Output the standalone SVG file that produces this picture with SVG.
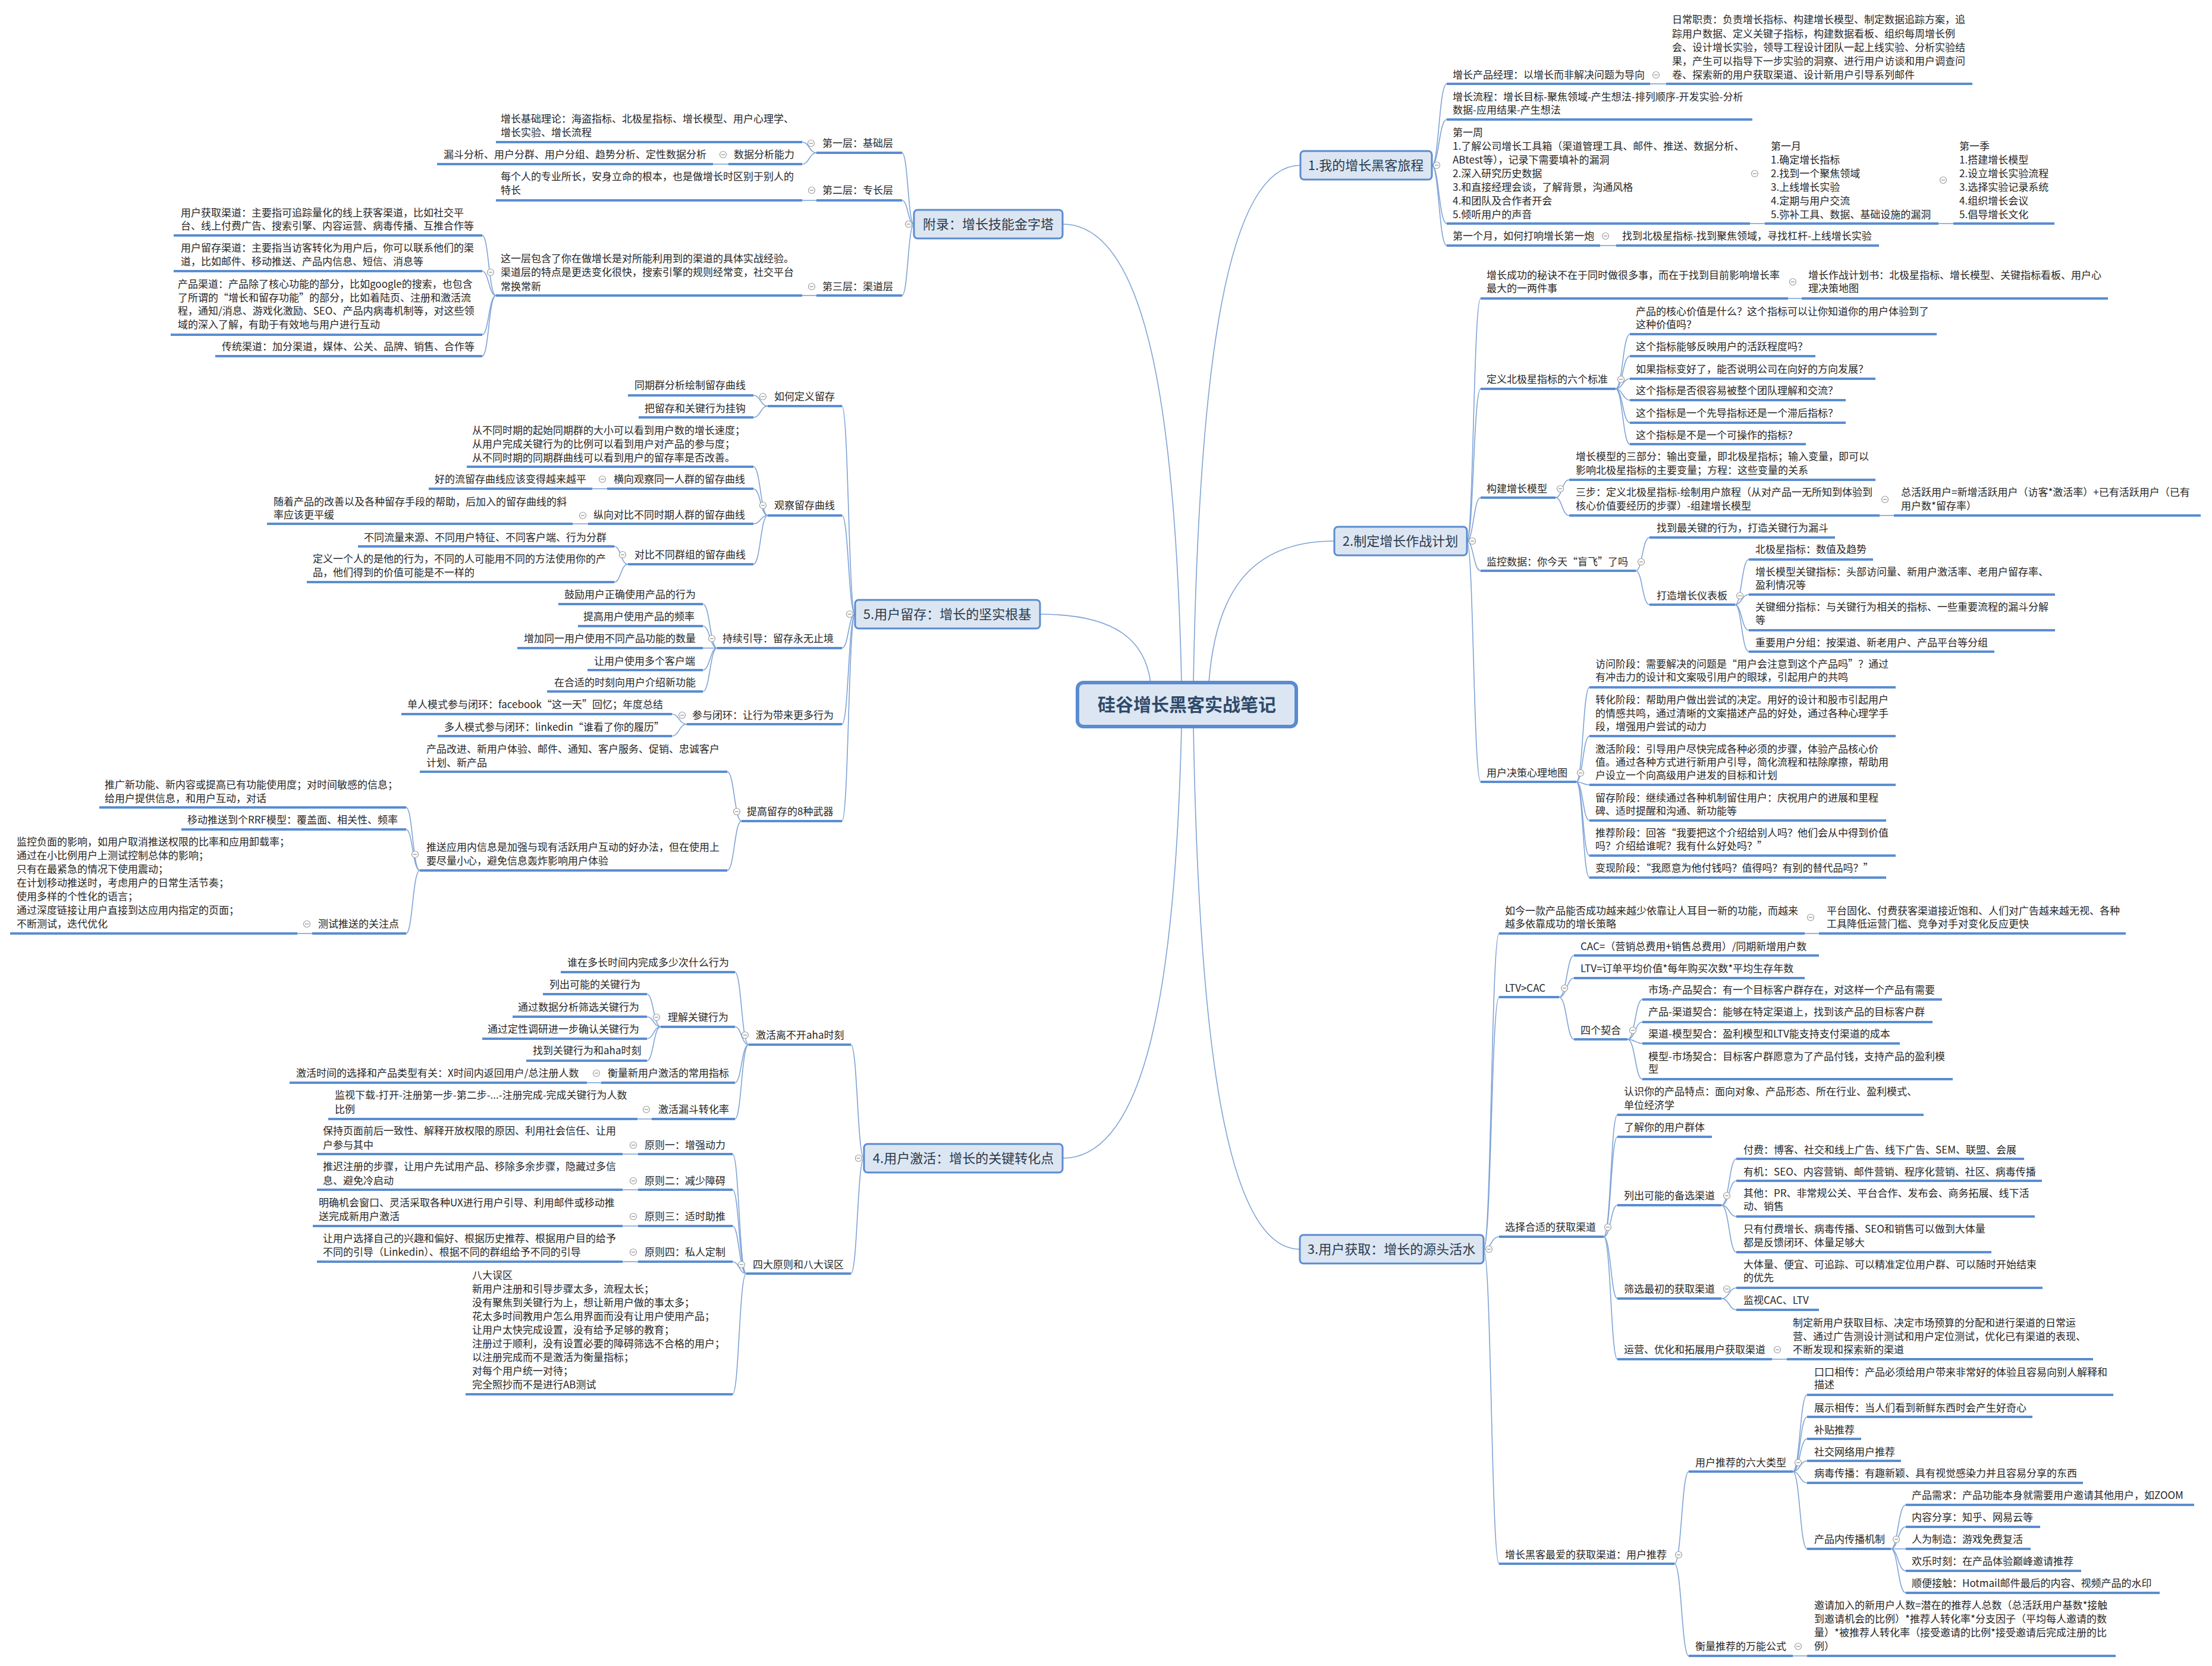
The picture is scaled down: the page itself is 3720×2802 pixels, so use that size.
<svg xmlns="http://www.w3.org/2000/svg" xmlns:xlink="http://www.w3.org/1999/xlink" width="3720" height="2802" viewBox="0 0 3720 2802">
<style>
.t{font-family:"Noto Sans CJK SC","Noto Sans",sans-serif;font-size:17px;fill:#262626}
.u{stroke:#5a8dd2;stroke-width:4;fill:none}
.c{stroke:#7fa3d6;stroke-width:1.6;fill:none}
.box{fill:#dce6f2;stroke:#5b8bd0;stroke-width:3}
.tt{font-family:"Noto Sans CJK SC","Noto Sans",sans-serif;font-size:22px;fill:#2b3a4e;text-anchor:middle}
.root{fill:#dce6f2;stroke:#5b8bd0;stroke-width:6}
.rt{font-family:"Noto Sans CJK SC","Noto Sans",sans-serif;font-size:30px;font-weight:bold;fill:#2e4a6b;text-anchor:middle}
</style>
<defs>
<g id="mk"><circle r="5.5" fill="#fff" stroke="#9a9a9a" stroke-width="1.2"/><path d="M-3,0H3" stroke="#8a8a8a" stroke-width="1.2"/></g>
</defs>
<rect width="3720" height="2802" fill="#fff"/>

<g id="connectors">
<path class="c" d="M2007,1148C2016,626 2061,278 2187,278"/>
<path class="c" d="M2033,1148C2044,1005 2096,910 2244,910"/>
<path class="c" d="M2007,1222C2016,1749 2061,2101 2186,2101"/>
<path class="c" d="M1987,1222C1977,1658 1927,1948 1787,1948"/>
<path class="c" d="M1935,1148C1926,1079 1879,1033 1749,1033"/>
<path class="c" d="M1987,1148C1977,685 1927,377 1787,377"/>
<!-- section 1 -->
<path class="c" d="M2408,278C2420,278 2420,141 2433,141"/>
<path class="c" d="M2408,278C2420,278 2420,201 2433,201"/>
<path class="c" d="M2408,278C2420,278 2420,376 2433,376"/>
<path class="c" d="M2408,278C2420,278 2420,413 2433,413"/>
<path class="c" d="M2775,141H2802"/>
<path class="c" d="M2943,376H2968"/>
<path class="c" d="M3260,376H3285"/>
<path class="c" d="M2691,413H2718"/>
<!-- section 2 -->
<path class="c" d="M2467,910C2478,910 2478,502 2490,502"/>
<path class="c" d="M2467,910C2478,910 2478,654 2490,654"/>
<path class="c" d="M2467,910C2478,910 2478,837 2490,837"/>
<path class="c" d="M2467,910C2478,910 2478,960 2490,960"/>
<path class="c" d="M2467,910C2478,910 2478,1315 2490,1315"/>
<path class="c" d="M3007,502H3030"/>
<path class="c" d="M2717,654C2729,654 2729,562 2741,562"/>
<path class="c" d="M2717,654C2729,654 2729,599 2741,599"/>
<path class="c" d="M2717,654C2729,654 2729,637 2741,637"/>
<path class="c" d="M2717,654C2729,654 2729,673 2741,673"/>
<path class="c" d="M2717,654C2729,654 2729,711 2741,711"/>
<path class="c" d="M2717,654C2729,654 2729,747 2741,747"/>
<path class="c" d="M2616,837C2627,837 2627,807 2639,807"/>
<path class="c" d="M2616,837C2627,837 2627,867 2639,867"/>
<path class="c" d="M3161,867H3185"/>
<path class="c" d="M2751,960C2762,960 2762,904 2774,904"/>
<path class="c" d="M2751,960C2762,960 2762,1017 2774,1017"/>
<path class="c" d="M2918,1017C2929,1017 2929,941 2941,941"/>
<path class="c" d="M2918,1017C2929,1017 2929,1000 2941,1000"/>
<path class="c" d="M2918,1017C2929,1017 2929,1060 2941,1060"/>
<path class="c" d="M2918,1017C2929,1017 2929,1096 2941,1096"/>
<path class="c" d="M2651,1315C2662,1315 2662,1156 2673,1156"/>
<path class="c" d="M2651,1315C2662,1315 2662,1238 2673,1238"/>
<path class="c" d="M2651,1315C2662,1315 2662,1320 2673,1320"/>
<path class="c" d="M2651,1315C2662,1315 2662,1380 2673,1380"/>
<path class="c" d="M2651,1315C2662,1315 2662,1439 2673,1439"/>
<path class="c" d="M2651,1315C2662,1315 2662,1476 2673,1476"/>
<!-- section 3 -->
<path class="c" d="M2495,2101C2508,2101 2508,1570 2521,1570"/>
<path class="c" d="M2495,2101C2508,2101 2508,1677 2521,1677"/>
<path class="c" d="M2495,2101C2508,2101 2508,2080 2521,2080"/>
<path class="c" d="M2495,2101C2508,2101 2508,2630 2521,2630"/>
<path class="c" d="M3035,1570H3059"/>
<path class="c" d="M2622,1677C2635,1677 2635,1607 2647,1607"/>
<path class="c" d="M2622,1677C2635,1677 2635,1645 2647,1645"/>
<path class="c" d="M2622,1677C2635,1677 2635,1748 2647,1748"/>
<path class="c" d="M2737,1748C2750,1748 2750,1681 2762,1681"/>
<path class="c" d="M2737,1748C2750,1748 2750,1719 2762,1719"/>
<path class="c" d="M2737,1748C2750,1748 2750,1755 2762,1755"/>
<path class="c" d="M2737,1748C2750,1748 2750,1815 2762,1815"/>
<path class="c" d="M2697,2080C2709,2080 2709,1875 2720,1875"/>
<path class="c" d="M2697,2080C2709,2080 2709,1912 2720,1912"/>
<path class="c" d="M2697,2080C2709,2080 2709,2027 2720,2027"/>
<path class="c" d="M2697,2080C2709,2080 2709,2184 2720,2184"/>
<path class="c" d="M2697,2080C2709,2080 2709,2286 2720,2286"/>
<path class="c" d="M2895,2027C2908,2027 2908,1949 2920,1949"/>
<path class="c" d="M2895,2027C2908,2027 2908,1986 2920,1986"/>
<path class="c" d="M2895,2027C2908,2027 2908,2046 2920,2046"/>
<path class="c" d="M2895,2027C2908,2027 2908,2106 2920,2106"/>
<path class="c" d="M2895,2184C2908,2184 2908,2166 2920,2166"/>
<path class="c" d="M2895,2184C2908,2184 2908,2203 2920,2203"/>
<path class="c" d="M2980,2286H3005"/>
<path class="c" d="M2816,2630C2828,2630 2828,2475 2840,2475"/>
<path class="c" d="M2816,2630C2828,2630 2828,2785 2840,2785"/>
<path class="c" d="M3015,2475C3027,2475 3027,2346 3039,2346"/>
<path class="c" d="M3015,2475C3027,2475 3027,2383 3039,2383"/>
<path class="c" d="M3015,2475C3027,2475 3027,2420 3039,2420"/>
<path class="c" d="M3015,2475C3027,2475 3027,2457 3039,2457"/>
<path class="c" d="M3015,2475C3027,2475 3027,2494 3039,2494"/>
<path class="c" d="M3015,2475C3027,2475 3027,2605 3039,2605"/>
<path class="c" d="M3180,2605C3192,2605 3192,2531 3205,2531"/>
<path class="c" d="M3180,2605C3192,2605 3192,2568 3205,2568"/>
<path class="c" d="M3180,2605C3192,2605 3192,2605 3205,2605"/>
<path class="c" d="M3180,2605C3192,2605 3192,2642 3205,2642"/>
<path class="c" d="M3180,2605C3192,2605 3192,2679 3205,2679"/>
<path class="c" d="M3015,2785H3039"/>
<!-- appendix -->
<path class="c" d="M1537,377C1527,377 1527,257 1517,257"/>
<path class="c" d="M1537,377C1527,377 1527,337 1517,337"/>
<path class="c" d="M1537,377C1527,377 1527,497 1517,497"/>
<path class="c" d="M1373,257C1361,257 1361,239 1349,239"/>
<path class="c" d="M1373,257C1361,257 1361,276 1349,276"/>
<path class="c" d="M1225,276H1199"/>
<path class="c" d="M1373,337H1349"/>
<path class="c" d="M1373,497H1349"/>
<path class="c" d="M834,497C822,497 822,396 811,396"/>
<path class="c" d="M834,497C822,497 822,456 811,456"/>
<path class="c" d="M834,497C822,497 822,563 811,563"/>
<path class="c" d="M834,497C822,497 822,599 811,599"/>
<!-- section 5 -->
<path class="c" d="M1438,1033C1427,1033 1427,683 1416,683"/>
<path class="c" d="M1438,1033C1427,1033 1427,867 1416,867"/>
<path class="c" d="M1438,1033C1427,1033 1427,1090 1416,1090"/>
<path class="c" d="M1438,1033C1427,1033 1427,1218 1416,1218"/>
<path class="c" d="M1438,1033C1427,1033 1427,1381 1416,1381"/>
<path class="c" d="M1291,683C1279,683 1279,665 1267,665"/>
<path class="c" d="M1291,683C1279,683 1279,702 1267,702"/>
<path class="c" d="M1291,867C1279,867 1279,785 1267,785"/>
<path class="c" d="M1291,867C1279,867 1279,822 1267,822"/>
<path class="c" d="M1291,867C1279,867 1279,881 1267,881"/>
<path class="c" d="M1291,867C1279,867 1279,949 1267,949"/>
<path class="c" d="M1021,822H996"/>
<path class="c" d="M989,881H963"/>
<path class="c" d="M1056,949C1044,949 1044,919 1033,919"/>
<path class="c" d="M1056,949C1044,949 1044,979 1033,979"/>
<path class="c" d="M1206,1090C1194,1090 1194,1016 1182,1016"/>
<path class="c" d="M1206,1090C1194,1090 1194,1053 1182,1053"/>
<path class="c" d="M1206,1090H1182"/>
<path class="c" d="M1206,1090C1194,1090 1194,1127 1182,1127"/>
<path class="c" d="M1206,1090C1194,1090 1194,1163 1182,1163"/>
<path class="c" d="M1155,1218C1142,1218 1142,1201 1130,1201"/>
<path class="c" d="M1155,1218C1142,1218 1142,1238 1130,1238"/>
<path class="c" d="M1247,1381C1235,1381 1235,1298 1223,1298"/>
<path class="c" d="M1247,1381C1235,1381 1235,1464 1223,1464"/>
<path class="c" d="M706,1464C694,1464 694,1358 683,1358"/>
<path class="c" d="M706,1464C694,1464 694,1395 683,1395"/>
<path class="c" d="M706,1464C694,1464 694,1570 683,1570"/>
<path class="c" d="M525,1570H500"/>
<!-- section 4 -->
<path class="c" d="M1453,1948C1442,1948 1442,1757 1431,1757"/>
<path class="c" d="M1453,1948C1442,1948 1442,2142 1431,2142"/>
<path class="c" d="M1259,1757C1247,1757 1247,1635 1236,1635"/>
<path class="c" d="M1259,1757C1247,1757 1247,1727 1236,1727"/>
<path class="c" d="M1259,1757C1247,1757 1247,1821 1236,1821"/>
<path class="c" d="M1259,1757C1247,1757 1247,1882 1236,1882"/>
<path class="c" d="M1111,1727C1099,1727 1099,1672 1088,1672"/>
<path class="c" d="M1111,1727C1099,1727 1099,1710 1088,1710"/>
<path class="c" d="M1111,1727C1099,1727 1099,1747 1088,1747"/>
<path class="c" d="M1111,1727C1099,1727 1099,1784 1088,1784"/>
<path class="c" d="M1011,1821H987"/>
<path class="c" d="M1096,1882H1072"/>
<path class="c" d="M1255,2142C1243,2142 1243,1941 1232,1941"/>
<path class="c" d="M1255,2142C1243,2142 1243,2001 1232,2001"/>
<path class="c" d="M1255,2142C1243,2142 1243,2062 1232,2062"/>
<path class="c" d="M1255,2142C1243,2142 1243,2122 1232,2122"/>
<path class="c" d="M1255,2142C1243,2142 1243,2345 1232,2345"/>
<path class="c" d="M1073,1941H1047"/>
<path class="c" d="M1073,2001H1047"/>
<path class="c" d="M1073,2062H1047"/>
<path class="c" d="M1073,2122H1047"/>
</g>

<g id="root"><rect class="root" x="1812" y="1148" width="368" height="74" rx="10"/><text class="rt" x="1996" y="1196">硅谷增长黑客实战笔记</text></g>
<g id="t1"><rect class="box" x="2187" y="254" width="221" height="48" rx="6"/><text class="tt" x="2297" y="286">1.我的增长黑客旅程</text></g>
<g id="t2"><rect class="box" x="2244" y="886" width="223" height="48" rx="6"/><text class="tt" x="2355" y="918">2.制定增长作战计划</text></g>
<g id="t3"><rect class="box" x="2186" y="2077" width="309" height="48" rx="6"/><text class="tt" x="2340" y="2109">3.用户获取：增长的源头活水</text></g>
<g id="t4"><rect class="box" x="1453" y="1924" width="334" height="48" rx="6"/><text class="tt" x="1620" y="1956">4.用户激活：增长的关键转化点</text></g>
<g id="t5"><rect class="box" x="1438" y="1009" width="311" height="48" rx="6"/><text class="tt" x="1593" y="1041">5.用户留存：增长的坚实根基</text></g>
<g id="tapp"><rect class="box" x="1537" y="353" width="250" height="48" rx="6"/><text class="tt" x="1662" y="385">附录：增长技能金字塔</text></g>

<!-- section 1 -->
<g id="n1a"><text class="t" x="2443" y="132">增长产品经理：以增长而非解决问题为导向</text><path class="u" d="M2433,141H2775"/></g>
<g id="n1a1"><text class="t"><tspan x="2812" y="39">日常职责：负责增长指标、构建增长模型、制定数据追踪方案，追</tspan><tspan x="2812" y="63">踪用户数据、定义关键子指标，构建数据看板、组织每周增长例</tspan><tspan x="2812" y="86">会、设计增长实验，领导工程设计团队一起上线实验、分析实验结</tspan><tspan x="2812" y="109">果，产生可以指导下一步实验的洞察、进行用户访谈和用户调查问</tspan><tspan x="2812" y="132">卷、探索新的用户获取渠道、设计新用户引导系列邮件</tspan></text><path class="u" d="M2802,141H3317"/></g>
<g id="n1b"><text class="t"><tspan x="2443" y="169">增长流程：增长目标-聚焦领域-产生想法-排列顺序-开发实验-分析</tspan><tspan x="2443" y="191">数据-应用结果-产生想法</tspan></text><path class="u" d="M2433,201H2947"/></g>
<g id="n1c"><text class="t"><tspan x="2443" y="229">第一周</tspan><tspan x="2443" y="252">1.了解公司增长工具箱（渠道管理工具、邮件、推送、数据分析、</tspan><tspan x="2443" y="275">ABtest等），记录下需要填补的漏洞</tspan><tspan x="2443" y="298">2.深入研究历史数据</tspan><tspan x="2443" y="321">3.和直接经理会谈，了解背景，沟通风格</tspan><tspan x="2443" y="344">4.和团队及合作者开会</tspan><tspan x="2443" y="367">5.倾听用户的声音</tspan></text><path class="u" d="M2433,376H2943"/></g>
<g id="n1c1"><text class="t"><tspan x="2978" y="252">第一月</tspan><tspan x="2978" y="275">1.确定增长指标</tspan><tspan x="2978" y="298">2.找到一个聚焦领域</tspan><tspan x="2978" y="321">3.上线增长实验</tspan><tspan x="2978" y="344">4.定期与用户交流</tspan><tspan x="2978" y="367">5.弥补工具、数据、基础设施的漏洞</tspan></text><path class="u" d="M2968,376H3260"/></g>
<g id="n1c1a"><text class="t"><tspan x="3295" y="252">第一季</tspan><tspan x="3295" y="275">1.搭建增长模型</tspan><tspan x="3295" y="298">2.设立增长实验流程</tspan><tspan x="3295" y="321">3.选择实验记录系统</tspan><tspan x="3295" y="344">4.组织增长会议</tspan><tspan x="3295" y="367">5.倡导增长文化</tspan></text><path class="u" d="M3285,376H3455"/></g>
<g id="n1d"><text class="t" x="2443" y="403">第一个月，如何打响增长第一炮</text><path class="u" d="M2433,413H2691"/></g>
<g id="n1d1"><text class="t" x="2728" y="403">找到北极星指标-找到聚焦领域，寻找杠杆-上线增长实验</text><path class="u" d="M2718,413H3160"/></g>

<!-- section 2 -->
<g id="n2a"><text class="t"><tspan x="2500" y="469">增长成功的秘诀不在于同时做很多事，而在于找到目前影响增长率</tspan><tspan x="2500" y="491">最大的一两件事</tspan></text><path class="u" d="M2490,502H3007"/></g>
<g id="n2a1"><text class="t"><tspan x="3041" y="469">增长作战计划书：北极星指标、增长模型、关键指标看板、用户心</tspan><tspan x="3041" y="491">理决策地图</tspan></text><path class="u" d="M3030,502H3545"/></g>
<g id="n2b"><text class="t" x="2500" y="644">定义北极星指标的六个标准</text><path class="u" d="M2490,654H2717"/></g>
<g id="n2b1"><text class="t"><tspan x="2751" y="530">产品的核心价值是什么？这个指标可以让你知道你的用户体验到了</tspan><tspan x="2751" y="552">这种价值吗？</tspan></text><path class="u" d="M2741,562H3257"/></g>
<g id="n2b2"><text class="t" x="2751" y="589">这个指标能够反映用户的活跃程度吗？</text><path class="u" d="M2741,599H3053"/></g>
<g id="n2b3"><text class="t" x="2751" y="627">如果指标变好了，能否说明公司在向好的方向发展？</text><path class="u" d="M2741,637H3154"/></g>
<g id="n2b4"><text class="t" x="2751" y="663">这个指标是否很容易被整个团队理解和交流？</text><path class="u" d="M2741,673H3104"/></g>
<g id="n2b5"><text class="t" x="2751" y="701">这个指标是一个先导指标还是一个滞后指标？</text><path class="u" d="M2741,711H3104"/></g>
<g id="n2b6"><text class="t" x="2751" y="738">这个指标是不是一个可操作的指标？</text><path class="u" d="M2741,747H3037"/></g>
<g id="n2c"><text class="t" x="2500" y="828">构建增长模型</text><path class="u" d="M2490,837H2616"/></g>
<g id="n2c1"><text class="t"><tspan x="2650" y="774">增长模型的三部分：输出变量，即北极星指标；输入变量，即可以</tspan><tspan x="2650" y="797">影响北极星指标的主要变量；方程：这些变量的关系</tspan></text><path class="u" d="M2639,807H3154"/></g>
<g id="n2c2"><text class="t"><tspan x="2650" y="834">三步：定义北极星指标-绘制用户旅程（从对产品一无所知到体验到</tspan><tspan x="2650" y="857">核心价值要经历的步骤）-组建增长模型</tspan></text><path class="u" d="M2639,867H3161"/></g>
<g id="n2c2a"><text class="t"><tspan x="3197" y="834">总活跃用户=新增活跃用户（访客*激活率）+已有活跃用户（已有</tspan><tspan x="3197" y="857">用户数*留存率）</tspan></text><path class="u" d="M3185,867H3701"/></g>
<g id="n2d"><text class="t" x="2500" y="951">监控数据：你今天“盲飞”了吗</text><path class="u" d="M2490,960H2751"/></g>
<g id="n2d1"><text class="t" x="2786" y="894">找到最关键的行为，打造关键行为漏斗</text><path class="u" d="M2774,904H3086"/></g>
<g id="n2d2"><text class="t" x="2786" y="1008">打造增长仪表板</text><path class="u" d="M2774,1017H2918"/></g>
<g id="n2d2a"><text class="t" x="2952" y="930">北极星指标：数值及趋势</text><path class="u" d="M2941,941H3150"/></g>
<g id="n2d2b"><text class="t"><tspan x="2952" y="968">增长模型关键指标：头部访问量、新用户激活率、老用户留存率、</tspan><tspan x="2952" y="990">盈利情况等</tspan></text><path class="u" d="M2941,1000H3456"/></g>
<g id="n2d2c"><text class="t"><tspan x="2952" y="1027">关键细分指标：与关键行为相关的指标、一些重要流程的漏斗分解</tspan><tspan x="2952" y="1049">等</tspan></text><path class="u" d="M2941,1060H3456"/></g>
<g id="n2d2d"><text class="t" x="2952" y="1087">重要用户分组：按渠道、新老用户、产品平台等分组</text><path class="u" d="M2941,1096H3354"/></g>
<g id="n2e"><text class="t" x="2500" y="1306">用户决策心理地图</text><path class="u" d="M2490,1315H2651"/></g>
<g id="n2e1"><text class="t"><tspan x="2683" y="1123">访问阶段：需要解决的问题是“用户会注意到这个产品吗”？通过</tspan><tspan x="2683" y="1145">有冲击力的设计和文案吸引用户的眼球，引起用户的共鸣</tspan></text><path class="u" d="M2673,1156H3188"/></g>
<g id="n2e2"><text class="t"><tspan x="2683" y="1183">转化阶段：帮助用户做出尝试的决定。用好的设计和股市引起用户</tspan><tspan x="2683" y="1206">的情感共鸣，通过清晰的文案描述产品的好处，通过各种心理学手</tspan><tspan x="2683" y="1228">段，增强用户尝试的动力</tspan></text><path class="u" d="M2673,1238H3188"/></g>
<g id="n2e3"><text class="t"><tspan x="2683" y="1266">激活阶段：引导用户尽快完成各种必须的步骤，体验产品核心价</tspan><tspan x="2683" y="1288">值。通过各种方式进行新用户引导，简化流程和祛除摩擦，帮助用</tspan><tspan x="2683" y="1310">户设立一个向高级用户进发的目标和计划</tspan></text><path class="u" d="M2673,1320H3188"/></g>
<g id="n2e4"><text class="t"><tspan x="2683" y="1348">留存阶段：继续通过各种机制留住用户：庆祝用户的进展和里程</tspan><tspan x="2683" y="1370">碑、适时提醒和沟通、新功能等</tspan></text><path class="u" d="M2673,1380H3172"/></g>
<g id="n2e5"><text class="t"><tspan x="2683" y="1407">推荐阶段：回答“我要把这个介绍给别人吗？他们会从中得到价值</tspan><tspan x="2683" y="1429">吗？介绍给谁呢？我有什么好处吗？”</tspan></text><path class="u" d="M2673,1439H3188"/></g>
<g id="n2e6"><text class="t" x="2683" y="1466">变现阶段：“我愿意为他付钱吗？值得吗？有别的替代品吗？”</text><path class="u" d="M2673,1476H3172"/></g>

<!-- section 3 -->
<g id="n3a"><text class="t"><tspan x="2531" y="1538">如今一款产品能否成功越来越少依靠让人耳目一新的功能，而越来</tspan><tspan x="2531" y="1560">越多依靠成功的增长策略</tspan></text><path class="u" d="M2521,1570H3035"/></g>
<g id="n3a1"><text class="t"><tspan x="3072" y="1538">平台固化、付费获客渠道接近饱和、人们对广告越来越无视、各种</tspan><tspan x="3072" y="1560">工具降低运营门槛、竞争对手对变化反应更快</tspan></text><path class="u" d="M3059,1570H3575"/></g>
<g id="n3b"><text class="t" x="2531" y="1668">LTV&gt;CAC</text><path class="u" d="M2521,1677H2622"/></g>
<g id="n3b1"><text class="t" x="2658" y="1598">CAC=（营销总费用+销售总费用）/同期新增用户数</text><path class="u" d="M2647,1607H3059"/></g>
<g id="n3b2"><text class="t" x="2658" y="1635">LTV=订单平均价值*每年购买次数*平均生存年数</text><path class="u" d="M2647,1645H3035"/></g>
<g id="n3b3"><text class="t" x="2658" y="1739">四个契合</text><path class="u" d="M2647,1748H2737"/></g>
<g id="n3b3a"><text class="t" x="2772" y="1671">市场-产品契合：有一个目标客户群存在，对这样一个产品有需要</text><path class="u" d="M2762,1681H3266"/></g>
<g id="n3b3b"><text class="t" x="2772" y="1708">产品-渠道契合：能够在特定渠道上，找到该产品的目标客户群</text><path class="u" d="M2762,1719H3250"/></g>
<g id="n3b3c"><text class="t" x="2772" y="1745">渠道-模型契合：盈利模型和LTV能支持支付渠道的成本</text><path class="u" d="M2762,1755H3195"/></g>
<g id="n3b3d"><text class="t"><tspan x="2772" y="1783">模型-市场契合：目标客户群愿意为了产品付钱，支持产品的盈利模</tspan><tspan x="2772" y="1804">型</tspan></text><path class="u" d="M2762,1815H3284"/></g>
<g id="n3c"><text class="t" x="2531" y="2070">选择合适的获取渠道</text><path class="u" d="M2521,2080H2697"/></g>
<g id="n3c1"><text class="t"><tspan x="2731" y="1842">认识你的产品特点：面向对象、产品形态、所在行业、盈利模式、</tspan><tspan x="2731" y="1865">单位经济学</tspan></text><path class="u" d="M2720,1875H3235"/></g>
<g id="n3c2"><text class="t" x="2731" y="1902">了解你的用户群体</text><path class="u" d="M2720,1912H2879"/></g>
<g id="n3c3"><text class="t" x="2731" y="2017">列出可能的备选渠道</text><path class="u" d="M2720,2027H2895"/></g>
<g id="n3c3a"><text class="t" x="2932" y="1940">付费：博客、社交和线上广告、线下广告、SEM、联盟、会展</text><path class="u" d="M2920,1949H3404"/></g>
<g id="n3c3b"><text class="t" x="2932" y="1977">有机：SEO、内容营销、邮件营销、程序化营销、社区、病毒传播</text><path class="u" d="M2920,1986H3434"/></g>
<g id="n3c3c"><text class="t"><tspan x="2932" y="2013">其他：PR、非常规公关、平台合作、发布会、商务拓展、线下活</tspan><tspan x="2932" y="2035">动、销售</tspan></text><path class="u" d="M2920,2046H3422"/></g>
<g id="n3c3d"><text class="t"><tspan x="2932" y="2073">只有付费增长、病毒传播、SEO和销售可以做到大体量</tspan><tspan x="2932" y="2096">都是反馈闭环、体量足够大</tspan></text><path class="u" d="M2920,2106H3349"/></g>
<g id="n3c4"><text class="t" x="2731" y="2174">筛选最初的获取渠道</text><path class="u" d="M2720,2184H2895"/></g>
<g id="n3c4a"><text class="t"><tspan x="2932" y="2133">大体量、便宜、可追踪、可以精准定位用户群、可以随时开始结束</tspan><tspan x="2932" y="2155">的优先</tspan></text><path class="u" d="M2920,2166H3435"/></g>
<g id="n3c4b"><text class="t" x="2932" y="2193">监视CAC、LTV</text><path class="u" d="M2920,2203H3059"/></g>
<g id="n3c5"><text class="t" x="2731" y="2276">运营、优化和拓展用户获取渠道</text><path class="u" d="M2720,2286H2980"/></g>
<g id="n3c5a"><text class="t"><tspan x="3015" y="2231">制定新用户获取目标、决定市场预算的分配和进行渠道的日常运</tspan><tspan x="3015" y="2254">营、通过广告测设计测试和用户定位测试，优化已有渠道的表现、</tspan><tspan x="3015" y="2276">不断发现和探索新的渠道</tspan></text><path class="u" d="M3005,2286H3520"/></g>
<g id="n3d"><text class="t" x="2531" y="2621">增长黑客最爱的获取渠道：用户推荐</text><path class="u" d="M2521,2630H2816"/></g>
<g id="n3d1"><text class="t" x="2851" y="2466">用户推荐的六大类型</text><path class="u" d="M2840,2475H3015"/></g>
<g id="n3d1a"><text class="t"><tspan x="3051" y="2314">口口相传：产品必须给用户带来非常好的体验且容易向别人解释和</tspan><tspan x="3051" y="2335">描述</tspan></text><path class="u" d="M3039,2346H3554"/></g>
<g id="n3d1b"><text class="t" x="3051" y="2374">展示相传：当人们看到新鲜东西时会产生好奇心</text><path class="u" d="M3039,2383H3418"/></g>
<g id="n3d1c"><text class="t" x="3051" y="2411">补贴推荐</text><path class="u" d="M3039,2420H3130"/></g>
<g id="n3d1d"><text class="t" x="3051" y="2448">社交网络用户推荐</text><path class="u" d="M3039,2457H3197"/></g>
<g id="n3d1e"><text class="t" x="3051" y="2484">病毒传播：有趣新颖、具有视觉感染力并且容易分享的东西</text><path class="u" d="M3039,2494H3503"/></g>
<g id="n3d1f"><text class="t" x="3051" y="2595">产品内传播机制</text><path class="u" d="M3039,2605H3180"/></g>
<g id="n3d1f1"><text class="t" x="3215" y="2521">产品需求：产品功能本身就需要用户邀请其他用户，如ZOOM</text><path class="u" d="M3205,2531H3690"/></g>
<g id="n3d1f2"><text class="t" x="3215" y="2558">内容分享：知乎、网易云等</text><path class="u" d="M3205,2568H3431"/></g>
<g id="n3d1f3"><text class="t" x="3215" y="2595">人为制造：游戏免费复活</text><path class="u" d="M3205,2605H3415"/></g>
<g id="n3d1f4"><text class="t" x="3215" y="2632">欢乐时刻：在产品体验巅峰邀请推荐</text><path class="u" d="M3205,2642H3500"/></g>
<g id="n3d1f5"><text class="t" x="3215" y="2669">顺便接触：Hotmail邮件最后的内容、视频产品的水印</text><path class="u" d="M3205,2679H3632"/></g>
<g id="n3d2"><text class="t" x="2851" y="2775">衡量推荐的万能公式</text><path class="u" d="M2840,2785H3015"/></g>
<g id="n3d2a"><text class="t"><tspan x="3051" y="2706">邀请加入的新用户人数=潜在的推荐人总数（总活跃用户基数*接触</tspan><tspan x="3051" y="2729">到邀请机会的比例）*推荐人转化率*分支因子（平均每人邀请的数</tspan><tspan x="3051" y="2752">量）*被推荐人转化率（接受邀请的比例*接受邀请后完成注册的比</tspan><tspan x="3051" y="2775">例）</tspan></text><path class="u" d="M3039,2785H3558"/></g>

<!-- appendix -->
<g id="a1"><text class="t" x="1383" y="247">第一层：基础层</text><path class="u" d="M1373,257H1517"/></g>
<g id="a1a"><text class="t"><tspan x="842" y="206">增长基础理论：海盗指标、北极星指标、增长模型、用户心理学、</tspan><tspan x="842" y="229">增长实验、增长流程</tspan></text><path class="u" d="M834,239H1349"/></g>
<g id="a1b"><text class="t" x="1234" y="266">数据分析能力</text><path class="u" d="M1225,276H1349"/></g>
<g id="a1b1"><text class="t" x="746" y="266">漏斗分析、用户分群、用户分组、趋势分析、定性数据分析</text><path class="u" d="M735,276H1199"/></g>
<g id="a2"><text class="t" x="1383" y="326">第二层：专长层</text><path class="u" d="M1373,337H1517"/></g>
<g id="a2a"><text class="t"><tspan x="842" y="303">每个人的专业所长，安身立命的根本，也是做增长时区别于别人的</tspan><tspan x="842" y="326">特长</tspan></text><path class="u" d="M834,337H1349"/></g>
<g id="a3"><text class="t" x="1383" y="488">第三层：渠道层</text><path class="u" d="M1373,497H1517"/></g>
<g id="a3a"><text class="t"><tspan x="842" y="441">这一层包含了你在做增长是对所能利用到的渠道的具体实战经验。</tspan><tspan x="842" y="464">渠道层的特点是更迭变化很快，搜索引擎的规则经常变，社交平台</tspan><tspan x="842" y="488">常换常新</tspan></text><path class="u" d="M834,497H1349"/></g>
<g id="a3a1"><text class="t"><tspan x="304" y="364">用户获取渠道：主要指可追踪量化的线上获客渠道，比如社交平</tspan><tspan x="304" y="386">台、线上付费广告、搜索引擎、内容运营、病毒传播、互推合作等</tspan></text><path class="u" d="M292,396H811"/></g>
<g id="a3a2"><text class="t"><tspan x="304" y="423">用户留存渠道：主要指当访客转化为用户后，你可以联系他们的渠</tspan><tspan x="304" y="446">道，比如邮件、移动推送、产品内信息、短信、消息等</tspan></text><path class="u" d="M292,456H811"/></g>
<g id="a3a3"><text class="t"><tspan x="299" y="484">产品渠道：产品除了核心功能的部分，比如google的搜索，也包含</tspan><tspan x="299" y="507">了所谓的“增长和留存功能”的部分，比如着陆页、注册和激活流</tspan><tspan x="299" y="529">程，通知/消息、游戏化激励、SEO、产品内病毒机制等，对这些领</tspan><tspan x="299" y="552">域的深入了解，有助于有效地与用户进行互动</tspan></text><path class="u" d="M287,563H811"/></g>
<g id="a3a4"><text class="t" x="373" y="589">传统渠道：加分渠道，媒体、公关、品牌、销售、合作等</text><path class="u" d="M362,599H811"/></g>

<!-- section 5 -->
<g id="s5a"><text class="t" x="1302" y="673">如何定义留存</text><path class="u" d="M1291,683H1416"/></g>
<g id="s5a1"><text class="t" x="1067" y="654">同期群分析绘制留存曲线</text><path class="u" d="M1056,665H1267"/></g>
<g id="s5a2"><text class="t" x="1084" y="693">把留存和关键行为挂钩</text><path class="u" d="M1074,702H1267"/></g>
<g id="s5b"><text class="t" x="1302" y="856">观察留存曲线</text><path class="u" d="M1291,867H1416"/></g>
<g id="s5b1"><text class="t"><tspan x="794" y="730">从不同时期的起始同期群的大小可以看到用户数的增长速度；</tspan><tspan x="794" y="753">从用户完成关键行为的比例可以看到用户对产品的参与度；</tspan><tspan x="794" y="776">从不同时期的同期群曲线可以看到用户的留存率是否改善。</tspan></text><path class="u" d="M785,785H1267"/></g>
<g id="s5b2"><text class="t" x="1032" y="812">横向观察同一人群的留存曲线</text><path class="u" d="M1021,822H1267"/></g>
<g id="s5b2a"><text class="t" x="731" y="812">好的流留存曲线应该变得越来越平</text><path class="u" d="M721,822H996"/></g>
<g id="s5b3"><text class="t" x="998" y="872">纵向对比不同时期人群的留存曲线</text><path class="u" d="M989,881H1267"/></g>
<g id="s5b3a"><text class="t"><tspan x="460" y="850">随着产品的改善以及各种留存手段的帮助，后加入的留存曲线的斜</tspan><tspan x="460" y="872">率应该更平缓</tspan></text><path class="u" d="M449,881H963"/></g>
<g id="s5b4"><text class="t" x="1067" y="939">对比不同群组的留存曲线</text><path class="u" d="M1056,949H1267"/></g>
<g id="s5b4a"><text class="t" x="612" y="910">不同流量来源、不同用户特征、不同客户端、行为分群</text><path class="u" d="M602,919H1033"/></g>
<g id="s5b4b"><text class="t"><tspan x="526" y="946">定义一个人的是他的行为，不同的人可能用不同的方法使用你的产</tspan><tspan x="526" y="969">品，他们得到的价值可能是不一样的</tspan></text><path class="u" d="M516,979H1033"/></g>
<g id="s5c"><text class="t" x="1215" y="1080">持续引导：留存永无止境</text><path class="u" d="M1206,1090H1416"/></g>
<g id="s5c1"><text class="t" x="949" y="1006">鼓励用户正确使用产品的行为</text><path class="u" d="M939,1016H1182"/></g>
<g id="s5c2"><text class="t" x="981" y="1043">提高用户使用产品的频率</text><path class="u" d="M972,1053H1182"/></g>
<g id="s5c3"><text class="t" x="881" y="1080">增加同一用户使用不同产品功能的数量</text><path class="u" d="M870,1090H1182"/></g>
<g id="s5c4"><text class="t" x="999" y="1118">让用户使用多个客户端</text><path class="u" d="M988,1127H1182"/></g>
<g id="s5c5"><text class="t" x="932" y="1154">在合适的时刻向用户介绍新功能</text><path class="u" d="M920,1163H1182"/></g>
<g id="s5d"><text class="t" x="1164" y="1209">参与闭环：让行为带来更多行为</text><path class="u" d="M1155,1218H1416"/></g>
<g id="s5d1"><text class="t" x="685" y="1191">单人模式参与闭环：facebook“这一天”回忆；年度总结</text><path class="u" d="M675,1201H1130"/></g>
<g id="s5d2"><text class="t" x="747" y="1229">多人模式参与闭环：linkedin“谁看了你的履历”</text><path class="u" d="M736,1238H1130"/></g>
<g id="s5e"><text class="t" x="1256" y="1371">提高留存的8种武器</text><path class="u" d="M1247,1381H1416"/></g>
<g id="s5e1"><text class="t"><tspan x="717" y="1266">产品改进、新用户体验、邮件、通知、客户服务、促销、忠诚客户</tspan><tspan x="717" y="1289">计划、新产品</tspan></text><path class="u" d="M706,1298H1223"/></g>
<g id="s5e2"><text class="t"><tspan x="717" y="1431">推送应用内信息是加强与现有活跃用户互动的好办法，但在使用上</tspan><tspan x="717" y="1454">要尽量小心，避免信息轰炸影响用户体验</tspan></text><path class="u" d="M706,1464H1223"/></g>
<g id="s5e2a"><text class="t"><tspan x="176" y="1326">推广新功能、新内容或提高已有功能使用度；对时间敏感的信息；</tspan><tspan x="176" y="1349">给用户提供信息，和用户互动，对话</tspan></text><path class="u" d="M167,1358H683"/></g>
<g id="s5e2b"><text class="t" x="315" y="1385">移动推送到个RRF模型：覆盖面、相关性、频率</text><path class="u" d="M305,1395H683"/></g>
<g id="s5e2c"><text class="t" x="535" y="1560">测试推送的关注点</text><path class="u" d="M525,1570H683"/></g>
<g id="s5e2c1"><text class="t"><tspan x="28" y="1422">监控负面的影响，如用户取消推送权限的比率和应用卸载率；</tspan><tspan x="28" y="1445">通过在小比例用户上测试控制总体的影响；</tspan><tspan x="28" y="1468">只有在最紧急的情况下使用震动；</tspan><tspan x="28" y="1491">在计划移动推送时，考虑用户的日常生活节奏；</tspan><tspan x="28" y="1514">使用多样的个性化的语言；</tspan><tspan x="28" y="1537">通过深度链接让用户直接到达应用内指定的页面；</tspan><tspan x="28" y="1560">不断测试，迭代优化</tspan></text><path class="u" d="M17,1570H500"/></g>

<!-- section 4 -->
<g id="s4a"><text class="t" x="1271" y="1747">激活离不开aha时刻</text><path class="u" d="M1259,1757H1431"/></g>
<g id="s4a1"><text class="t" x="954" y="1625">谁在多长时间内完成多少次什么行为</text><path class="u" d="M943,1635H1236"/></g>
<g id="s4a2"><text class="t" x="1123" y="1717">理解关键行为</text><path class="u" d="M1111,1727H1236"/></g>
<g id="s4a2a"><text class="t" x="924" y="1662">列出可能的关键行为</text><path class="u" d="M913,1672H1088"/></g>
<g id="s4a2b"><text class="t" x="871" y="1700">通过数据分析筛选关键行为</text><path class="u" d="M862,1710H1088"/></g>
<g id="s4a2c"><text class="t" x="820" y="1737">通过定性调研进一步确认关键行为</text><path class="u" d="M811,1747H1088"/></g>
<g id="s4a2d"><text class="t" x="896" y="1773">找到关键行为和aha时刻</text><path class="u" d="M885,1784H1088"/></g>
<g id="s4a3"><text class="t" x="1022" y="1811">衡量新用户激活的常用指标</text><path class="u" d="M1011,1821H1236"/></g>
<g id="s4a3a"><text class="t" x="498" y="1811">激活时间的选择和产品类型有关：X时间内返回用户/总注册人数</text><path class="u" d="M487,1821H987"/></g>
<g id="s4a4"><text class="t" x="1107" y="1872">激活漏斗转化率</text><path class="u" d="M1096,1882H1236"/></g>
<g id="s4a4a"><text class="t"><tspan x="563" y="1848">监视下载-打开-注册第一步-第二步-...-注册完成-完成关键行为人数</tspan><tspan x="563" y="1872">比例</tspan></text><path class="u" d="M552,1882H1072"/></g>
<g id="s4b"><text class="t" x="1266" y="2133">四大原则和八大误区</text><path class="u" d="M1255,2142H1431"/></g>
<g id="s4b1"><text class="t" x="1084" y="1932">原则一：增强动力</text><path class="u" d="M1073,1941H1232"/></g>
<g id="s4b1a"><text class="t"><tspan x="543" y="1908">保持页面前后一致性、解释开放权限的原因、利用社会信任、让用</tspan><tspan x="543" y="1932">户参与其中</tspan></text><path class="u" d="M533,1941H1047"/></g>
<g id="s4b2"><text class="t" x="1084" y="1992">原则二：减少障碍</text><path class="u" d="M1073,2001H1232"/></g>
<g id="s4b2a"><text class="t"><tspan x="543" y="1968">推迟注册的步骤，让用户先试用产品、移除多余步骤，隐藏过多信</tspan><tspan x="543" y="1992">息、避免冷启动</tspan></text><path class="u" d="M533,2001H1047"/></g>
<g id="s4b3"><text class="t" x="1084" y="2052">原则三：适时助推</text><path class="u" d="M1073,2062H1232"/></g>
<g id="s4b3a"><text class="t"><tspan x="536" y="2029">明确机会窗口、灵活采取各种UX进行用户引导、利用邮件或移动推</tspan><tspan x="536" y="2052">送完成新用户激活</tspan></text><path class="u" d="M526,2062H1047"/></g>
<g id="s4b4"><text class="t" x="1084" y="2112">原则四：私人定制</text><path class="u" d="M1073,2122H1232"/></g>
<g id="s4b4a"><text class="t"><tspan x="543" y="2089">让用户选择自己的兴趣和偏好、根据历史推荐、根据用户目的给予</tspan><tspan x="543" y="2112">不同的引导（Linkedin）、根据不同的群组给予不同的引导</tspan></text><path class="u" d="M533,2122H1047"/></g>
<g id="s4b5"><text class="t"><tspan x="794" y="2151">八大误区</tspan><tspan x="794" y="2174">新用户注册和引导步骤太多，流程太长；</tspan><tspan x="794" y="2197">没有聚焦到关键行为上，想让新用户做的事太多；</tspan><tspan x="794" y="2220">花太多时间教用户怎么用界面而没有让用户使用产品；</tspan><tspan x="794" y="2243">让用户太快完成设置，没有给予足够的教育；</tspan><tspan x="794" y="2266">注册过于顺利，没有设置必要的障碍筛选不合格的用户；</tspan><tspan x="794" y="2289">以注册完成而不是激活为衡量指标；</tspan><tspan x="794" y="2312">对每个用户统一对待；</tspan><tspan x="794" y="2335">完全照抄而不是进行AB测试</tspan></text><path class="u" d="M783,2345H1232"/></g>

<g id="markers">
<use href="#mk" x="2416" y="278"/><use href="#mk" x="2785" y="126"/><use href="#mk" x="2951" y="292"/><use href="#mk" x="3268" y="303"/><use href="#mk" x="2700" y="397"/>
<use href="#mk" x="2476" y="910"/><use href="#mk" x="3015" y="474"/><use href="#mk" x="2726" y="638"/><use href="#mk" x="2624" y="822"/><use href="#mk" x="3170" y="840"/><use href="#mk" x="2760" y="945"/><use href="#mk" x="2926" y="1002"/><use href="#mk" x="2658" y="1300"/>
<use href="#mk" x="2504" y="2101"/><use href="#mk" x="3045" y="1543"/><use href="#mk" x="2631" y="1662"/><use href="#mk" x="2746" y="1733"/><use href="#mk" x="2704" y="2064"/><use href="#mk" x="2904" y="2011"/><use href="#mk" x="2904" y="2168"/><use href="#mk" x="2989" y="2270"/><use href="#mk" x="2823" y="2615"/><use href="#mk" x="3024" y="2460"/><use href="#mk" x="3189" y="2589"/><use href="#mk" x="3024" y="2769"/>
<use href="#mk" x="1528" y="377"/><use href="#mk" x="1364" y="241"/><use href="#mk" x="1216" y="260"/><use href="#mk" x="1365" y="320"/><use href="#mk" x="1365" y="482"/><use href="#mk" x="825" y="458"/>
<use href="#mk" x="1429" y="1033"/><use href="#mk" x="1283" y="667"/><use href="#mk" x="1283" y="850"/><use href="#mk" x="1013" y="806"/><use href="#mk" x="980" y="867"/><use href="#mk" x="1047" y="933"/><use href="#mk" x="1197" y="1074"/><use href="#mk" x="1147" y="1203"/><use href="#mk" x="1239" y="1365"/><use href="#mk" x="698" y="1437"/><use href="#mk" x="516" y="1554"/>
<use href="#mk" x="1444" y="1948"/><use href="#mk" x="1253" y="1741"/><use href="#mk" x="1104" y="1711"/><use href="#mk" x="1003" y="1805"/><use href="#mk" x="1087" y="1866"/><use href="#mk" x="1247" y="2127"/><use href="#mk" x="1065" y="1926"/><use href="#mk" x="1065" y="1986"/><use href="#mk" x="1065" y="2046"/><use href="#mk" x="1065" y="2106"/>
</g>
</svg>
